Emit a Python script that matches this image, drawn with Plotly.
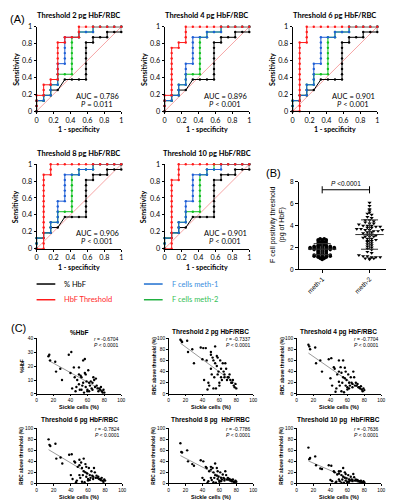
import numpy as np
import plotly.graph_objects as go

W, H = 394, 500

# ---------------- data ----------------
roc_titles = ["Threshold 2 pg HbF/RBC", "Threshold 4 pg HbF/RBC", "Threshold 6 pg HbF/RBC",
              "Threshold 8 pg HbF/RBC", "Threshold 10 pg HbF/RBC"]
roc_auc = ["0.786", "0.896", "0.901", "0.906", "0.901"]
roc_p = ["= 0.011", "< 0.001", "< 0.001", "< 0.001", "< 0.001"]
# ROC step sequences: U = one more true positive (1/16), R = one more false positive (1/12),
# D = tie (one negative + two positives)
roc_black = ["UURURURDRRRUUUUUUURURRURRU"] * 5
roc_blue = ["UURURUURUUUURUUUUURRURRURRRR"] * 5
roc_green = ["UURURUURUURRUUUUUUURURRURRRR"] * 4 + ["UURURUURUURRUUUUUUURURURRRRR"]
roc_red = ["UUURUURURUUUUUUURURRUURRRRRR",
           "UUURUUUUUUUUURURUUURRRRRRRRR",
           "RUUUUUUUUUUUUURUUURRRRRRRRRR",
           "RUUUUUUUUUUUUUURUURRRRRRRRRR",
           "RUUUUUUUUUUUUURUUURRRRRRRRRR"]

meth_labels = ["meth-1", "meth-2"]
meth1 = [2.8, 2.8, 2.7, 2.7, 2.7, 2.6, 2.6, 2.6, 2.5, 2.5, 2.4, 2.4, 2.3, 2.3, 2.2, 2.2, 2.2, 2.1, 2.1, 2.1,
         2.1, 2.0, 2.0, 2.0, 2.0, 2.0, 2.0, 1.9, 1.9, 1.9, 1.9, 1.9, 1.9, 1.8, 1.8, 1.8, 1.8, 1.8, 1.7, 1.7,
         1.7, 1.6, 1.6, 1.6, 1.5, 1.5, 1.5, 1.4, 1.4, 1.4, 1.3, 1.3, 1.3, 1.3, 1.2, 1.2, 1.2, 1.2, 1.2, 1.1,
         1.1, 1.1, 1.0, 1.0, 0.9, 2.4, 2.0, 1.9, 2.1, 1.3]
meth2 = [6.1, 5.8, 5.5, 5.4, 5.2, 5.1, 5.0, 4.8, 4.7, 4.5, 4.5, 4.4, 4.3, 4.2, 4.1, 4.0, 4.0, 4.0, 3.9, 3.9,
         3.8, 3.8, 3.7, 3.7, 3.6, 3.6, 3.5, 3.5, 3.4, 3.4, 3.3, 3.2, 3.2, 3.1, 3.0, 3.0, 2.9, 2.8, 2.8, 2.7,
         2.6, 2.5, 2.4, 2.3, 2.2, 2.1, 2.0, 1.9, 1.8, 1.6, 1.5, 1.3, 1.2, 1.2, 1.1, 1.1, 1.1, 1.0, 1.0, 1.0,
         0.9, 3.6, 4.2, 3.0, 2.6]

sickle = [14, 15, 16, 22, 23, 28, 30, 38, 40, 41, 42, 44, 45, 47, 48, 50, 50, 50, 51, 52,
          53, 53, 54, 55, 55, 56, 57, 58, 58, 59, 60, 60, 61, 62, 62, 63, 64, 65, 66, 66,
          67, 68, 69, 70, 71, 72, 73, 74, 75, 76, 77, 78, 79, 80, 46, 57]
hbf = [27, 28, 24, 23, 16, 18, 10, 28, 15, 30, 4, 19, 12, 5, 10, 19, 14, 7, 3, 13,
       12, 3, 6, 8, 24, 1, 25, 5, 14, 9, 3, 2, 17, 8, 2, 6, 9, 4, 3, 8,
       12, 10, 5, 11, 6, 4, 2, 4, 3, 5, 2, 1, 3, 1, 2, 15]
thr2 = [97, 95, 93, 95, 75, 80, 55, 83, 62, 82, 25, 82, 60, 20, 15, 70, 75, 45, 35, 65,
        60, 10, 30, 55, 85, 10, 50, 35, 65, 40, 20, 15, 60, 45, 30, 25, 55, 40, 30, 35,
        55, 45, 25, 30, 30, 35, 25, 20, 20, 25, 15, 12, 18, 10, 8, 68]
thr4 = [88, 85, 80, 83, 55, 60, 40, 62, 28, 64, 15, 48, 45, 10, 35, 60, 40, 22, 15, 48,
        38, 5, 20, 30, 60, 3, 28, 15, 40, 25, 12, 8, 35, 20, 10, 15, 30, 20, 12, 18,
        40, 30, 15, 20, 15, 18, 12, 12, 10, 14, 8, 5, 10, 7, 4, 47]
thr6 = [80, 70, 68, 72, 45, 47, 36, 52, 15, 53, 8, 40, 38, 5, 30, 43, 33, 15, 10, 38,
        28, 3, 15, 22, 45, 2, 20, 12, 30, 18, 8, 5, 28, 15, 6, 10, 22, 14, 8, 12,
        28, 20, 10, 14, 10, 12, 8, 8, 6, 10, 5, 3, 7, 5, 2, 35]
thr8 = [73, 57, 56, 60, 40, 35, 32, 42, 10, 40, 6, 30, 28, 4, 22, 30, 25, 10, 6, 28,
        20, 2, 10, 15, 36, 1, 14, 8, 22, 12, 5, 3, 20, 10, 4, 7, 16, 10, 5, 8,
        22, 15, 7, 10, 7, 8, 5, 6, 4, 7, 3, 2, 5, 3, 1, 28]
thr10 = [65, 44, 46, 49, 33, 27, 26, 33, 6, 32, 4, 22, 20, 3, 16, 22, 18, 7, 4, 22,
         15, 1, 7, 12, 28, 1, 10, 5, 17, 9, 3, 2, 15, 7, 3, 5, 12, 7, 4, 6,
         17, 11, 5, 7, 5, 6, 4, 4, 3, 5, 2, 1, 4, 2, 1, 20]
c_titles = ["%HbF", "Threshold 2 pg HbF/RBC", "Threshold 4 pg HbF/RBC",
            "Threshold 6 pg HbF/RBC", "Threshold 8 pg  HbF/RBC", "Threshold 10 pg  HbF/RBC"]
c_ylabels = ["%HbF"] + ["RBC above threshold (%)"] * 5
c_r = ["-0.6704", "-0.7337", "-0.7704", "-0.7824", "-0.7786", "-0.7636"]
c_y = [hbf, thr2, thr4, thr6, thr8, thr10]

# ---------------- styling ----------------
FA = "Lato, 'Open Sans', sans-serif"
FB = "'Liberation Sans', Arial, sans-serif"
C_BLACK, C_RED, C_BLUE, C_GREEN = "#000000", "#ff1a1a", "#1f5fd6", "#10c020"


def px(x):
    return x / W


def py(y):
    return 1 - y / H


def decode(s, npos=16, nneg=12):
    f, t = [0], [0]
    for c in s:
        fi, ti = f[-1], t[-1]
        if c == "U":
            ti += 1
        elif c == "R":
            fi += 1
        else:
            fi += 1
            ti += 2
        f.append(fi)
        t.append(ti)
    return np.array(f) / nneg, np.array(t) / npos


fig = go.Figure()
layout = dict(width=W, height=H, margin=dict(l=0, r=0, t=0, b=0), plot_bgcolor="white",
              paper_bgcolor="white", showlegend=False)
annotations = []
shapes = []


def axis(box, k, xr, yr, xtv, xtt, ytv, ytt, size, fam, xangle=0, ticklen=2.5):
    x0, x1, y0, y1 = box
    n = "" if k == 1 else str(k)
    common = dict(showgrid=False, zeroline=False, showline=True, linecolor="black", linewidth=1,
                  ticks="outside", ticklen=ticklen, tickwidth=1, tickcolor="black", fixedrange=True,
                  tickfont=dict(size=size, family=fam, color="black"))
    layout["xaxis" + n] = dict(domain=[px(x0), px(x1)], range=xr, anchor="y" + n, tickvals=xtv,
                               ticktext=xtt, tickangle=xangle, **common)
    layout["yaxis" + n] = dict(domain=[py(y1), py(y0)], range=yr, anchor="x" + n, tickvals=ytv,
                               ticktext=ytt, **common)
    return "x" + n, "y" + n


def text(x, y, s, size, fam, color="black", angle=0, xanchor="center", xref="paper", yref="paper"):
    annotations.append(dict(x=x, y=y, xref=xref, yref=yref, text=s, showarrow=False, textangle=angle,
                            xanchor=xanchor, yanchor="middle",
                            font=dict(size=size, family=fam, color=color)))


# ---------------- panel A ----------------
roc_boxes = [(27, 113, 15, 101), (157, 243, 15, 101), (287, 373, 15, 101),
             (27, 113, 155, 241), (157, 243, 155, 241)]
tv = [0, 0.2, 0.4, 0.6, 0.8, 1]
tt = ["0", "0.2", "0.4", "0.6", "0.8", "1"]
for i, box in enumerate(roc_boxes):
    xa, ya = axis(box, i + 1, [0, 1], [0, 1], tv, tt, tv, tt, 7.2, FA, ticklen=2)
    fig.add_trace(go.Scatter(x=[0, 1], y=[0, 1], mode="lines", line=dict(color="#f6a5a5", width=1),
                             xaxis=xa, yaxis=ya, cliponaxis=False))
    for seq, col in [(roc_black[i], C_BLACK), (roc_green[i], C_GREEN), (roc_blue[i], C_BLUE),
                     (roc_red[i], C_RED)]:
        fx, ty = decode(seq)
        fig.add_trace(go.Scatter(x=fx, y=ty, mode="lines+markers", line=dict(color=col, width=1),
                                 marker=dict(color=col, size=2.4), xaxis=xa, yaxis=ya, cliponaxis=False))
    x0, x1, y0, y1 = box
    text(px((x0 + x1) / 2), py(y0 - 11), "<b>" + roc_titles[i] + "</b>", 7.5, FA)
    text(px(x0 - 21), py((y0 + y1) / 2), "<b>Sensitivity</b>", 7, FA, angle=-90)
    text(px((x0 + x1) / 2), py(y1 + 18.5), "<b>1 - specificity</b>", 7, FA)
    text(1.0, 0.175, "AUC = " + roc_auc[i], 7.5, FA, xanchor="right", xref=xa, yref=ya)
    text(0.93, 0.085, "<i>P</i> " + roc_p[i], 7.5, FA, xanchor="right", xref=xa, yref=ya)

text(px(8), py(7), "(A)", 11, FB)

# legend
leg = [("% HbF", C_BLACK, C_BLACK, 27, 277), ("HbF Threshold", C_RED, "#ff2a2a", 27, 293),
       ("F cells meth-1", "#1f6fd0", "#3a8ee0", 136, 277), ("F cells meth-2", "#20b040", "#35c055", 136, 293)]
for lab, lc, tc, lx, ly in leg:
    shapes.append(dict(type="line", xref="paper", yref="paper", x0=px(lx), x1=px(lx + 19),
                       y0=py(ly), y1=py(ly), line=dict(color=lc, width=1.5)))
    text(px(lx + 26), py(ly), lab, 7.5, FA, color=tc, xanchor="left")

# ---------------- panel B ----------------
bbox = (293, 382, 173, 262)
xa, ya = axis(bbox, 6, [0.5, 2.352], [0, 8], [1, 2], meth_labels, [0, 2, 4, 6, 8],
              ["0", "2", "4", "6", "8"], 6.5, FB, xangle=-45)


def swarm(vals, center, binw, dx):
    vals = np.array(vals)
    bins = np.round(vals / binw).astype(int)
    xs = np.zeros(len(vals))
    for b in np.unique(bins):
        idx = np.where(bins == b)[0]
        n = len(idx)
        xs[idx] = center + (np.arange(n) - (n - 1) / 2) * dx
    return xs


for j, (vals, sym, bw, dx) in enumerate([(meth1, "circle", 0.1, 0.085), (meth2, "triangle-down", 0.2, 0.09)]):
    c = j + 1
    fig.add_trace(go.Scatter(x=swarm(vals, c, bw, dx), y=vals, mode="markers",
                             marker=dict(symbol=sym, size=3.6, color="black"), xaxis=xa, yaxis=ya,
                             cliponaxis=False))
    m, sd = np.mean(vals), np.std(vals, ddof=1)
    fig.add_trace(go.Scatter(x=[c - 0.3, c + 0.3, None, c - 0.18, c + 0.18, None, c - 0.18, c + 0.18, None, c, c],
                             y=[m, m, None, m + sd, m + sd, None, m - sd, m - sd, None, m - sd, m + sd],
                             mode="lines", line=dict(color="#333333", width=1), xaxis=xa, yaxis=ya))
fig.add_trace(go.Scatter(x=[1, 1, None, 1, 2, None, 2, 2], y=[6.95, 7.6, None, 7.28, 7.28, None, 6.95, 7.6],
                         mode="lines", line=dict(color="black", width=1), xaxis=xa, yaxis=ya,
                         cliponaxis=False))
text(1.5, 7.85, "<i>P</i> <0.0001", 6.5, FB, xref=xa, yref=ya)
text(px(271), py(217), "F cell positivity threshold<br>(pg of HbF)", 7, FB, angle=-90)
text(px(268), py(164), "(B)", 11, FB)

# ---------------- panel C ----------------
c_boxes = [(27, 113, 332, 389), (161, 247, 332, 389), (291, 377, 332, 389),
           (27, 114, 424, 480), (161, 247, 424, 480), (291, 377, 424, 480)]
for i, box in enumerate(c_boxes):
    ymax = 40 if i == 0 else 100
    ytv = [0, 10, 20, 30, 40] if i == 0 else [0, 20, 40, 60, 80, 100]
    xa, ya = axis(box, 7 + i, [0, 100], [0, ymax], [0, 20, 40, 60, 80, 100],
                  ["0", "20", "40", "60", "80", "100"], ytv, [str(v) for v in ytv], 4.8, FB, ticklen=1.5)
    xs = np.array(sickle, dtype=float)
    ys = np.array(c_y[i], dtype=float)
    a, b = np.polyfit(xs, ys, 1)
    xl = np.array([xs.min(), xs.max()])
    fig.add_trace(go.Scatter(x=xl, y=a * xl + b, mode="lines", line=dict(color="#9a9a9a", width=1),
                             xaxis=xa, yaxis=ya))
    fig.add_trace(go.Scatter(x=xs, y=ys, mode="markers", marker=dict(color="black", size=2.4),
                             xaxis=xa, yaxis=ya, cliponaxis=False))
    x0, x1, y0, y1 = box
    row1 = i < 3
    text(px((x0 + x1) / 2), py(y0 - (6 if row1 else 9)), "<b>" + c_titles[i] + "</b>", 6.5, FB)
    text(px(x0 - 15), py((y0 + y1) / 2), "<b>" + c_ylabels[i] + "</b>", 4.8, FB, angle=-90)
    text(px((x0 + x1) / 2), py(y1 + 13.5), "<b>Sickle cells (%)</b>", 5.5, FB)
    text(100, ymax * 0.99, "<i>r</i> = " + c_r[i], 5, FB, xanchor="right", xref=xa, yref=ya)
    text(100, ymax * 0.88, "<i>P</i> < 0.0001", 5, FB, xanchor="right", xref=xa, yref=ya)

text(px(9), py(322), "(C)", 11, FB)

layout["annotations"] = annotations
layout["shapes"] = shapes
fig.update_layout(**layout)
fig.write_html("out.html")
